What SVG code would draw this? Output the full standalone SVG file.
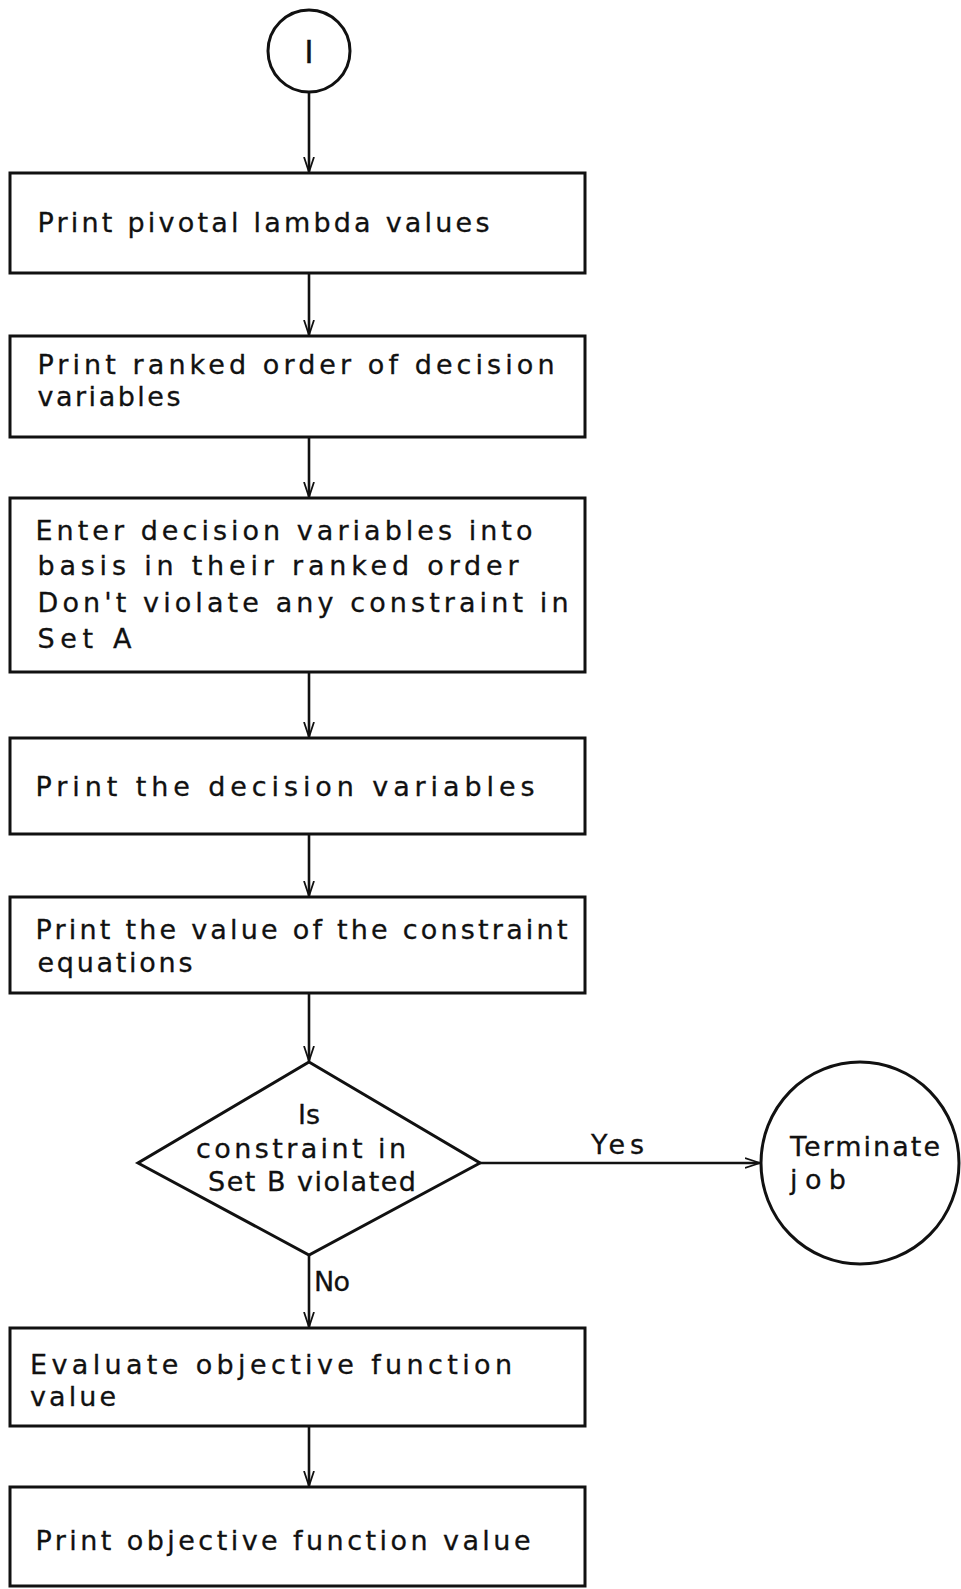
<svg xmlns="http://www.w3.org/2000/svg" width="961" height="1589" viewBox="0 0 961 1589">
<style>
.box{fill:#fff;stroke:#111;stroke-width:3}
.t{font-family:"DejaVu Sans",sans-serif;font-size:27px;fill:#111;stroke:#111;stroke-width:0.3}
.c{fill:none;stroke:#111;stroke-width:2.6}
</style>
<defs>
<marker id="ah" markerWidth="16" markerHeight="12" refX="15" refY="6" orient="auto" markerUnits="userSpaceOnUse">
<path d="M0,1 L15,6 L0,11" fill="none" stroke="#111" stroke-width="1.8"/>
</marker>
</defs>
<rect width="961" height="1589" fill="#fff"/>
<g id="connectors">
<line class="c" x1="309" y1="92" x2="309" y2="172" marker-end="url(#ah)"/>
<line class="c" x1="309" y1="273" x2="309" y2="335" marker-end="url(#ah)"/>
<line class="c" x1="309" y1="437" x2="309" y2="497" marker-end="url(#ah)"/>
<line class="c" x1="309" y1="672" x2="309" y2="737" marker-end="url(#ah)"/>
<line class="c" x1="309" y1="834" x2="309" y2="896" marker-end="url(#ah)"/>
<line class="c" x1="309" y1="993" x2="309" y2="1061" marker-end="url(#ah)"/>
<line class="c" x1="480" y1="1163" x2="760" y2="1163" marker-end="url(#ah)"/>
<line class="c" x1="309" y1="1255" x2="309" y2="1327" marker-end="url(#ah)"/>
<line class="c" x1="309" y1="1426" x2="309" y2="1486" marker-end="url(#ah)"/>
<text class="t" x="591" y="1154" textLength="53" lengthAdjust="spacing">Yes</text>
<text class="t" x="314" y="1291" textLength="36" lengthAdjust="spacing">No</text>
</g>
<g id="start">
<circle cx="309" cy="51" r="41" fill="#fff" stroke="#111" stroke-width="3"/>
<text class="t" x="309" y="63" text-anchor="middle" style="font-size:32px">I</text>
</g>
<g id="box1">
<rect class="box" x="10" y="173" width="575" height="100"/>
<text class="t" x="37.5" y="232" textLength="452" lengthAdjust="spacing">Print pivotal lambda values</text>
</g>
<g id="box2">
<rect class="box" x="10" y="336" width="575" height="101"/>
<text class="t" x="37.5" y="374" textLength="517" lengthAdjust="spacing">Print ranked order of decision</text>
<text class="t" x="37.5" y="406" textLength="143" lengthAdjust="spacing">variables</text>
</g>
<g id="box3">
<rect class="box" x="10" y="498" width="575" height="174"/>
<text class="t" x="35.5" y="540" textLength="497" lengthAdjust="spacing">Enter decision variables into</text>
<text class="t" x="37.5" y="575" textLength="481" lengthAdjust="spacing">basis in their ranked order</text>
<text class="t" x="37.5" y="612" textLength="531" lengthAdjust="spacing">Don't violate any constraint in</text>
<text class="t" x="37.5" y="648" textLength="94" lengthAdjust="spacing">Set A</text>
</g>
<g id="box4">
<rect class="box" x="10" y="738" width="575" height="96"/>
<text class="t" x="35.5" y="796" textLength="499" lengthAdjust="spacing">Print the decision variables</text>
</g>
<g id="box5">
<rect class="box" x="10" y="897" width="575" height="96"/>
<text class="t" x="35.5" y="939" textLength="532" lengthAdjust="spacing">Print the value of the constraint</text>
<text class="t" x="37.5" y="972" textLength="155" lengthAdjust="spacing">equations</text>
</g>
<g id="decision">
<polygon class="box" points="309,1062 480,1163 309,1255 138,1163"/>
<text class="t" x="309" y="1124" text-anchor="middle">Is</text>
<text class="t" x="196" y="1158" textLength="210" lengthAdjust="spacing">constraint in</text>
<text class="t" x="208" y="1191" textLength="208" lengthAdjust="spacing">Set B violated</text>
</g>
<g id="terminate">
<ellipse class="box" cx="860" cy="1163" rx="99" ry="101"/>
<text class="t" x="790" y="1156" textLength="150" lengthAdjust="spacing">Terminate</text>
<text class="t" x="790" y="1189" textLength="56" lengthAdjust="spacing">job</text>
</g>
<g id="box6">
<rect class="box" x="10" y="1328" width="575" height="98"/>
<text class="t" x="30" y="1374" textLength="482" lengthAdjust="spacing">Evaluate objective function</text>
<text class="t" x="30" y="1406" textLength="86" lengthAdjust="spacing">value</text>
</g>
<g id="box7">
<rect class="box" x="10" y="1487" width="575" height="99"/>
<text class="t" x="35.5" y="1550" textLength="495" lengthAdjust="spacing">Print objective function value</text>
</g>
</svg>
